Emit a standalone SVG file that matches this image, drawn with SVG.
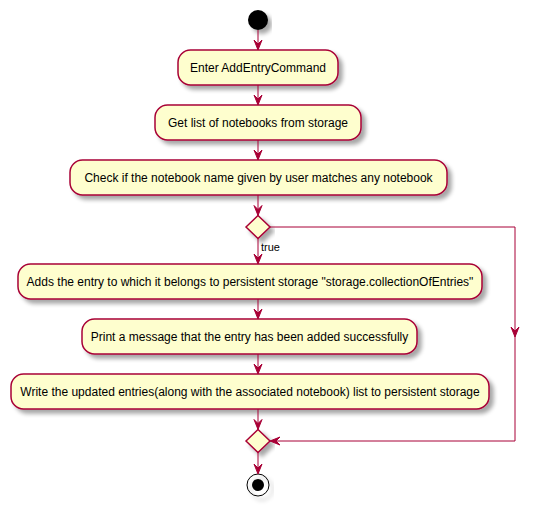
<svg xmlns="http://www.w3.org/2000/svg" width="540" height="511" viewBox="0 0 540 511">
<defs>
<filter id="sh" x="-20%" y="-40%" width="140%" height="200%">
<feGaussianBlur in="SourceAlpha" stdDeviation="2" result="b"/>
<feOffset in="b" dx="4" dy="4" result="o"/>
<feComponentTransfer in="o" result="s"><feFuncA type="linear" slope="0.35"/></feComponentTransfer>
<feMerge><feMergeNode in="s"/><feMergeNode in="SourceGraphic"/></feMerge>
</filter>
</defs>
<style>
.act{fill:#FEFECE;stroke:#A80036;stroke-width:1.5;filter:url(#sh)}
.t{font-family:"Liberation Sans",Arial,sans-serif;font-size:12px;fill:#000;text-anchor:middle}
.l{font-family:"Liberation Sans",Arial,sans-serif;font-size:11px;fill:#000}
.c{fill:none;stroke:#A80036;stroke-width:1}
.ah{fill:#A80036;stroke:#A80036;stroke-width:1}
</style>
<rect width="540" height="511" fill="#FFFFFF"/>
<g id="start"><circle cx="258" cy="20" r="10" fill="#000" filter="url(#sh)"/></g>
<g id="n1"><rect class="act" x="178" y="50" width="160" height="35" rx="12.5"/><text class="t" x="258" y="72">Enter AddEntryCommand</text></g>
<g id="n2"><rect class="act" x="155" y="105" width="206" height="35" rx="12.5"/><text class="t" x="258" y="127">Get list of notebooks from storage</text></g>
<g id="n3"><rect class="act" x="70" y="160" width="377" height="35" rx="12.5"/><text class="t" x="258.5" y="182">Check if the notebook name given by user matches any notebook</text></g>
<g id="d1"><polygon class="act" points="246,227 258,215.5 270,227 258,238.5"/></g>
<g id="n4"><rect class="act" x="18" y="264" width="464" height="35" rx="12.5"/><text class="t" x="250" y="286">Adds the entry to which it belongs to persistent storage "storage.collectionOfEntries"</text></g>
<g id="n5"><rect class="act" x="82" y="319" width="335" height="35" rx="12.5"/><text class="t" x="249.5" y="341">Print a message that the entry has been added successfully</text></g>
<g id="n6"><rect class="act" x="11" y="374" width="478" height="35" rx="12.5"/><text class="t" x="250" y="396">Write the updated entries(along with the associated notebook) list to persistent storage</text></g>
<g id="d2"><polygon class="act" points="246,441 258,429.5 270,441 258,452.5"/></g>
<g id="end"><circle cx="258" cy="485" r="11" fill="none" stroke="#000" stroke-width="1" filter="url(#sh)"/><circle cx="258" cy="485" r="6" fill="#000"/></g>
<g id="connectors">
<line class="c" x1="258" y1="30" x2="258" y2="49"/><polygon class="ah" points="254,40 258,50 262,40 258,44"/>
<line class="c" x1="258" y1="85" x2="258" y2="104"/><polygon class="ah" points="254,95 258,105 262,95 258,99"/>
<line class="c" x1="258" y1="140" x2="258" y2="159"/><polygon class="ah" points="254,150 258,160 262,150 258,154"/>
<line class="c" x1="258" y1="195" x2="258" y2="215"/><polygon class="ah" points="254,205.5 258,215.5 262,205.5 258,209.5"/>
<line class="c" x1="258" y1="238.5" x2="258" y2="263"/><polygon class="ah" points="254,254 258,264 262,254 258,258"/>
<text class="l" x="261" y="251">true</text>
<line class="c" x1="258" y1="299" x2="258" y2="318"/><polygon class="ah" points="254,309 258,319 262,309 258,313"/>
<line class="c" x1="258" y1="354" x2="258" y2="373"/><polygon class="ah" points="254,364 258,374 262,364 258,368"/>
<line class="c" x1="258" y1="409" x2="258" y2="429"/><polygon class="ah" points="254,419.5 258,429.5 262,419.5 258,423.5"/>
<line class="c" x1="258" y1="452.5" x2="258" y2="473"/><polygon class="ah" points="254,464 258,474 262,464 258,468"/>
<polyline class="c" points="270,227 515,227 515,441 271,441"/>
<polygon class="ah" points="511,327 515,337 519,327 515,331"/>
<polygon class="ah" points="280,437 270,441 280,445 276,441"/>
</g>
</svg>
